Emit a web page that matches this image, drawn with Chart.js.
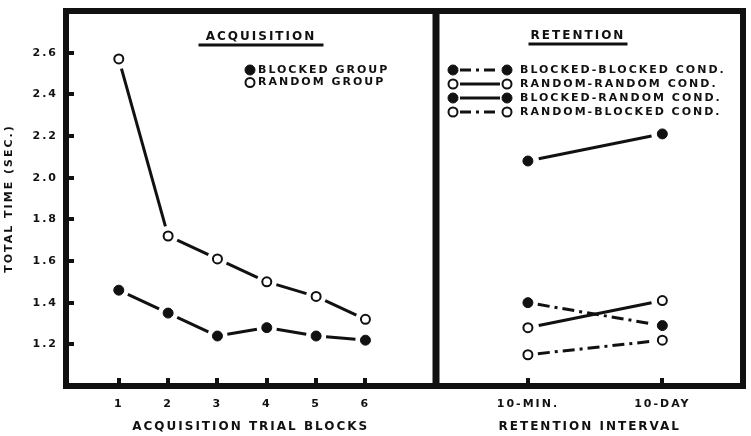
<!DOCTYPE html>
<html>
<head>
<meta charset="utf-8">
<script src="https://cdn.jsdelivr.net/npm/chart.js@4/dist/chart.umd.min.js"></script>
<style>
  body { margin: 0; background: #fff; }
  #wrap { position: relative; width: 751px; height: 436px; }
  canvas { position: absolute; top: 0; }
</style>
</head>
<body>
<div id="wrap">
  <canvas id="acq" width="442" height="436" style="left:0"></canvas>
  <canvas id="ret" width="321" height="436" style="left:430px"></canvas>
</div>
<script>
// acquisition panel
const acqTrials = [1, 2, 3, 4, 5, 6];
const blockedGroup = [1.46, 1.35, 1.24, 1.28, 1.24, 1.22];
const randomGroup = [2.57, 1.72, 1.61, 1.50, 1.43, 1.32];

// retention panel
const retIntervals = ['10-MIN.', '10-DAY'];
const blockedBlocked = [1.40, 1.29];
const randomRandom = [1.28, 1.41];
const blockedRandom = [2.08, 2.21];
const randomBlocked = [1.15, 1.22];

const timeTicks = [1.2, 1.4, 1.6, 1.8, 2.0, 2.2, 2.4, 2.6];

const INK = '#111';
Chart.defaults.font.family = '"DejaVu Sans", sans-serif';
Chart.defaults.font.weight = 'bold';
Chart.defaults.font.size = 11;
Chart.defaults.color = INK;

// line segments stop short of the markers, like the drawn original
function gappedDash(pattern, gap) {
  return c => {
    const len = Math.hypot(c.p1.x - c.p0.x, c.p1.y - c.p0.y) - 2 * gap;
    const dash = [0, gap];
    let used = 0, i = 0;
    while (used < len) {
      const seg = Math.min(pattern[i % pattern.length], len - used);
      dash.push(seg);
      used += seg;
      i++;
    }
    if (dash.length % 2 === 1) dash.push(1e4); else dash.push(0, 1e4);
    return dash;
  };
}
// tiny per-segment offset keeps equal-length segments from being merged into one path
const ownOffset = c => c.p0DataIndex * 0.001;
const SOLID = [1e4];
const DASHDOT = [12, 5, 3, 5];

function filled(label, data, dash, gap) {
  return {
    label, data, legendDash: dash,
    borderColor: INK, borderWidth: 3,
    pointBackgroundColor: INK, pointBorderColor: INK, pointBorderWidth: 1, pointRadius: 5,
    segment: { borderDash: gappedDash(dash, gap), borderDashOffset: ownOffset }
  };
}
function open(label, data, dash, gap) {
  return {
    label, data, legendDash: dash,
    borderColor: INK, borderWidth: 3,
    pointBackgroundColor: '#fff', pointBorderColor: INK, pointBorderWidth: 2, pointRadius: 4.5,
    segment: { borderDash: gappedDash(dash, gap), borderDashOffset: ownOffset }
  };
}

const panelDecor = {
  id: 'panelDecor',
  beforeDraw(chart) {
    chart.ctx.letterSpacing = '2px';
  },
  afterDraw(chart, args, opts) {
    const {ctx, chartArea: a} = chart;
    ctx.save();
    ctx.strokeStyle = INK;
    ctx.fillStyle = INK;
    ctx.lineWidth = 6;
    ctx.strokeRect(a.left, a.top, a.right - a.left, a.bottom - a.top);

    // panel heading, underlined
    ctx.font = 'bold 12px "DejaVu Sans"';
    ctx.textAlign = 'center';
    ctx.textBaseline = 'middle';
    ctx.fillText(opts.title, opts.titleX, opts.titleY);
    ctx.lineWidth = 3;
    ctx.beginPath();
    ctx.moveTo(opts.titleX - opts.underline / 2, opts.titleY + 8);
    ctx.lineTo(opts.titleX + opts.underline / 2, opts.titleY + 8);
    ctx.stroke();

    // key
    ctx.font = 'bold 11px "DejaVu Sans"';
    ctx.textAlign = 'left';
    const marker = (x, y, ds) => {
      ctx.setLineDash([]);
      ctx.beginPath();
      ctx.arc(x, y, ds.pointRadius, 0, Math.PI * 2);
      ctx.fillStyle = ds.pointBackgroundColor;
      ctx.fill();
      ctx.lineWidth = ds.pointBorderWidth;
      ctx.strokeStyle = ds.pointBorderColor;
      ctx.stroke();
    };
    chart.data.datasets.forEach((ds, i) => {
      const y = opts.keyY + i * opts.keyGap;
      if (opts.keyEnd) {
        ctx.strokeStyle = INK;
        ctx.lineWidth = 3;
        ctx.setLineDash(ds.legendDash === SOLID ? [] : [11, 5, 3, 5]);
        ctx.beginPath();
        ctx.moveTo(opts.keyX + 7, y);
        ctx.lineTo(opts.keyEnd - 7, y);
        ctx.stroke();
        marker(opts.keyEnd, y, ds);
      }
      marker(opts.keyX, y, ds);
      ctx.fillStyle = INK;
      ctx.fillText(ds.label, opts.textX, y);
    });
    ctx.restore();
  }
};

const stub = { drawOnChartArea: false, tickLength: -8, lineWidth: 4, color: INK };
const fitX = s => { s.height = 50; s.paddingLeft = 0; s.paddingRight = 0; };

new Chart(document.getElementById('acq'), {
  type: 'line',
  data: {
    datasets: [
      filled('BLOCKED GROUP', acqTrials.map((t, i) => ({x: t, y: blockedGroup[i]})), SOLID, 10),
      open('RANDOM GROUP', acqTrials.map((t, i) => ({x: t, y: randomGroup[i]})), SOLID, 10)
    ]
  },
  options: {
    responsive: false,
    animation: false,
    events: [],
    layout: { padding: { top: 11, right: 6, bottom: 0, left: 0 } },
    plugins: {
      legend: { display: false },
      tooltip: { enabled: false },
      panelDecor: {
        title: 'ACQUISITION', titleX: 261, titleY: 37, underline: 125,
        keyX: 250, keyY: 70, keyGap: 12.5, textX: 258
      }
    },
    scales: {
      x: {
        type: 'linear', min: -0.07, max: 7.42,
        afterBuildTicks: s => { s.ticks = acqTrials.map(v => ({value: v})); },
        afterFit: fitX,
        ticks: { padding: 20, maxRotation: 0, autoSkip: false, callback: v => String(v) },
        grid: stub,
        border: { display: false },
        title: { display: true, text: 'ACQUISITION TRIAL BLOCKS', font: { size: 12 }, padding: { top: 0, bottom: 2 } }
      },
      y: {
        type: 'linear', min: 1, max: 2.8,
        afterBuildTicks: s => { s.ticks = timeTicks.map(v => ({value: v})); },
        afterFit: s => { s.width = 66; s.paddingTop = 0; s.paddingBottom = 0; },
        ticks: { padding: 16, callback: v => v.toFixed(1) },
        grid: stub,
        border: { display: false },
        title: { display: true, text: 'TOTAL TIME (SEC.)', padding: { top: 3, bottom: 0 } }
      }
    }
  },
  plugins: [panelDecor]
});

new Chart(document.getElementById('ret'), {
  type: 'line',
  data: {
    datasets: [
      filled('BLOCKED-BLOCKED COND.', retIntervals.map((_, i) => ({x: i, y: blockedBlocked[i]})), DASHDOT, 10),
      open('RANDOM-RANDOM COND.', retIntervals.map((_, i) => ({x: i, y: randomRandom[i]})), SOLID, 11),
      filled('BLOCKED-RANDOM COND.', retIntervals.map((_, i) => ({x: i, y: blockedRandom[i]})), SOLID, 11),
      open('RANDOM-BLOCKED COND.', retIntervals.map((_, i) => ({x: i, y: randomBlocked[i]})), DASHDOT, 10)
    ]
  },
  options: {
    responsive: false,
    animation: false,
    events: [],
    layout: { padding: { top: 11, right: 8, bottom: 0, left: 6 } },
    plugins: {
      legend: { display: false },
      tooltip: { enabled: false },
      panelDecor: {
        title: 'RETENTION', titleX: 148, titleY: 36, underline: 99,
        keyX: 23, keyEnd: 77, keyY: 70, keyGap: 14, textX: 90
      }
    },
    scales: {
      x: {
        type: 'linear', min: -0.68, max: 1.6,
        afterBuildTicks: s => { s.ticks = retIntervals.map((_, i) => ({value: i})); },
        afterFit: fitX,
        ticks: { padding: 20, maxRotation: 0, autoSkip: false, callback: v => retIntervals[v] },
        grid: stub,
        border: { display: false },
        title: { display: true, text: 'RETENTION INTERVAL', font: { size: 12 }, padding: { top: 0, bottom: 2 } }
      },
      y: { type: 'linear', min: 1, max: 2.8, display: false }
    }
  },
  plugins: [panelDecor]
});
</script>
</body>
</html>
